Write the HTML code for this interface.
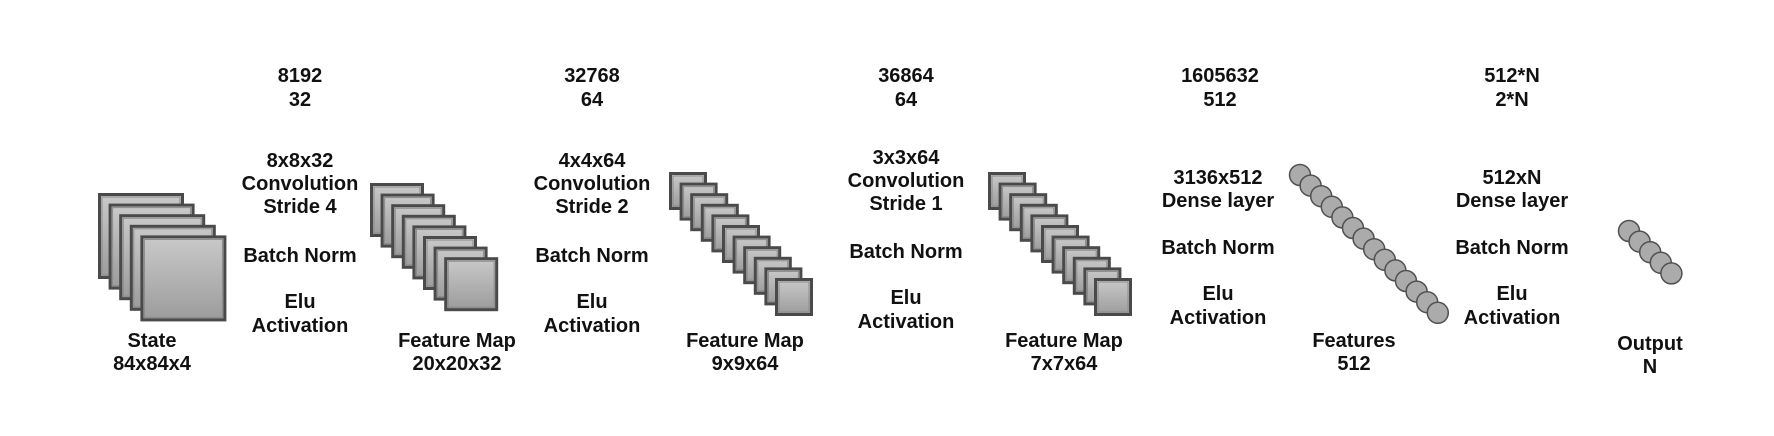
<!DOCTYPE html>
<html><head><meta charset="utf-8">
<style>
html,body{margin:0;padding:0;background:#fff;}
svg{display:block;}
text{font-family:"Liberation Sans",Arial,sans-serif;font-weight:bold;font-size:20px;fill:#111;text-anchor:middle;}
</style></head>
<body>
<svg id="chart" width="1774" height="436" viewBox="0 0 1774 436">
<defs>
<linearGradient id="sq" x1="0" y1="0" x2="0" y2="1">
<stop offset="0" stop-color="#c9c9c9"/><stop offset="1" stop-color="#9c9c9c"/>
</linearGradient>
</defs>
<g>
<text x="300" y="82">8192</text><text x="300" y="106">32</text>
<text x="592" y="82">32768</text><text x="592" y="106">64</text>
<text x="906" y="82">36864</text><text x="906" y="106">64</text>
<text x="1220" y="82">1605632</text><text x="1220" y="106">512</text>
<text x="1512" y="82">512*N</text><text x="1512" y="106">2*N</text>
</g>
<g>
<text x="300" y="167">8x8x32</text><text x="300" y="190">Convolution</text><text x="300" y="213">Stride 4</text>
<text x="300" y="262">Batch Norm</text><text x="300" y="308">Elu</text><text x="300" y="332">Activation</text>
</g>
<g>
<text x="592" y="167">4x4x64</text><text x="592" y="190">Convolution</text><text x="592" y="213">Stride 2</text>
<text x="592" y="262">Batch Norm</text><text x="592" y="308">Elu</text><text x="592" y="332">Activation</text>
</g>
<g>
<text x="906" y="164">3x3x64</text><text x="906" y="187">Convolution</text><text x="906" y="210">Stride 1</text>
<text x="906" y="258">Batch Norm</text><text x="906" y="304">Elu</text><text x="906" y="328">Activation</text>
</g>
<g>
<text x="1218" y="184">3136x512</text><text x="1218" y="207">Dense layer</text>
<text x="1218" y="254">Batch Norm</text><text x="1218" y="300">Elu</text><text x="1218" y="324">Activation</text>
</g>
<g>
<text x="1512" y="184">512xN</text><text x="1512" y="207">Dense layer</text>
<text x="1512" y="254">Batch Norm</text><text x="1512" y="300">Elu</text><text x="1512" y="324">Activation</text>
</g>
<g>
<text x="152" y="347">State</text><text x="152" y="370">84x84x4</text>
<text x="457" y="347">Feature Map</text><text x="457" y="370">20x20x32</text>
<text x="745" y="347">Feature Map</text><text x="745" y="370">9x9x64</text>
<text x="1064" y="347">Feature Map</text><text x="1064" y="370">7x7x64</text>
<text x="1354" y="347">Features</text><text x="1354" y="370">512</text>
<text x="1650" y="350">Output</text><text x="1650" y="373">N</text>
</g>
</svg>
<script>
const stackNames = ['state-stack','feature-map-1-stack','feature-map-2-stack','feature-map-3-stack'];
const stackCounts = [5, 8, 11, 11];
const stackSizes = [86, 54, 38, 38];
const stackBackX = [98, 370, 669, 988];
const stackBackY = [193, 183, 172, 172];
const circleNames = ['features-nodes','output-nodes'];
const circleCounts = [14, 5];
const circleStartX = [1300, 1629];
const circleStartY = [175, 231];
const STEP = 10.6;
const NS = 'http://www.w3.org/2000/svg';
const svg = document.getElementById('chart');
for (let s = 0; s < stackNames.length; s++) {
  const g = document.createElementNS(NS, 'g');
  
  
  const sz = stackSizes[s];
  for (let i = 0; i < stackCounts[s]; i++) {
    const x = stackBackX[s] + i * STEP, y = stackBackY[s] + i * STEP;
    const r = document.createElementNS(NS, 'rect');
    
    
    r.setAttribute('x', x + 1.5); r.setAttribute('y', y + 1.5);
    r.setAttribute('width', sz - 3); r.setAttribute('height', sz - 3);
    r.setAttribute('fill', 'url(#sq)'); r.setAttribute('stroke', '#4a4a4a'); r.setAttribute('stroke-width', '3');
    g.appendChild(r);
    const r2 = document.createElementNS(NS, 'rect');
    
    
    r2.setAttribute('x', x + 4); r2.setAttribute('y', y + 4);
    r2.setAttribute('width', sz - 8); r2.setAttribute('height', sz - 8);
    r2.setAttribute('fill', 'none'); r2.setAttribute('stroke', '#8a8a8a'); r2.setAttribute('stroke-width', '1');
    g.appendChild(r2);
  }
  svg.appendChild(g);
}
for (let s = 0; s < circleNames.length; s++) {
  const g = document.createElementNS(NS, 'g');
  
  
  for (let i = 0; i < circleCounts[s]; i++) {
    const c = document.createElementNS(NS, 'circle');
    
    
    c.setAttribute('cx', circleStartX[s] + i * STEP);
    c.setAttribute('cy', circleStartY[s] + i * STEP);
    c.setAttribute('r', 10.5);
    c.setAttribute('fill', '#ababab'); c.setAttribute('stroke', '#505050'); c.setAttribute('stroke-width', '1.5');
    g.appendChild(c);
  }
  svg.appendChild(g);
}
</script>
</body></html>
